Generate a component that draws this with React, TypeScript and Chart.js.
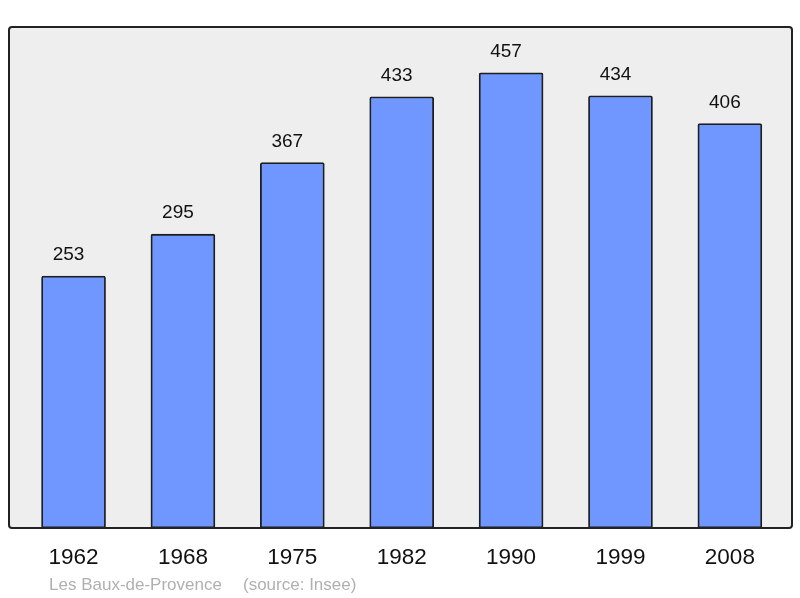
import React, { useEffect, useRef } from "react";
import { Chart, registerables } from "chart.js";

Chart.register(...registerables);

const years = ["1962", "1968", "1975", "1982", "1990", "1999", "2008"];
const population = [253, 295, 367, 433, 457, 434, 406];
const commune = "Les Baux-de-Provence";
const source = "(source: Insee)";

const FONT = "'Liberation Sans', Arial, sans-serif";

const framePlugin = {
  id: "frame",
  beforeDatasetsDraw(chart: any) {
    const { ctx, chartArea: a } = chart;
    ctx.save();
    ctx.fillStyle = "#eeeeee";
    ctx.beginPath();
    ctx.roundRect(a.left, a.top, a.right - a.left, a.bottom - a.top, 3);
    ctx.fill();
    ctx.restore();
  },
  afterDatasetsDraw(chart: any) {
    const { ctx, chartArea: a } = chart;
    ctx.save();
    ctx.strokeStyle = "#222222";
    ctx.lineWidth = 2;
    ctx.beginPath();
    ctx.roundRect(a.left, a.top, a.right - a.left, a.bottom - a.top, 3);
    ctx.stroke();
    // value labels
    const meta = chart.getDatasetMeta(0);
    ctx.fillStyle = "#111111";
    ctx.font = `19px ${FONT}`;
    ctx.textAlign = "center";
    ctx.textBaseline = "middle";
    meta.data.forEach((bar: any, i: number) => {
      ctx.fillText(String(population[i]), bar.x - 5, bar.y - 21);
    });
    // caption
    ctx.fillStyle = "#b0b0b0";
    ctx.font = `17px ${FONT}`;
    ctx.textAlign = "left";
    ctx.fillText(commune, 49, 585);
    ctx.fillText(source, 243, 585);
    ctx.restore();
  },
};

export default function App() {
  const ref = useRef<HTMLCanvasElement>(null);
  useEffect(() => {
    document.body.style.margin = "0";
    const chart = new Chart(ref.current!, {
      type: "bar",
      data: {
        datasets: [
          {
            data: population.map((v, i) => ({ x: i, y: v })),
            backgroundColor: "#7097ff",
            borderColor: "#1e1e1e",
            borderWidth: 1.8,
            borderRadius: 2,
            borderSkipped: false,
            barThickness: 64,
          },
        ],
      },
      options: {
        animation: false,
        responsive: false,
        maintainAspectRatio: false,
        layout: { padding: { left: 9, right: 8, top: 27, bottom: 0 } },
        plugins: { legend: { display: false }, tooltip: { enabled: false } },
        scales: {
          x: {
            type: "linear",
            offset: false,
            min: -0.59,
            max: 6.568,
            grid: { display: false, drawTicks: false },
            border: { display: false },
            afterBuildTicks: (scale: any) => {
              scale.ticks = years.map((_, i) => ({ value: i }));
            },
            afterFit: (scale: any) => {
              scale.height = 70;
            },
            ticks: {
              padding: 16,
              color: "#111111",
              font: { family: FONT, size: 22.5 },
              maxRotation: 0,
              autoSkip: false,
              callback: (v: any) => years[Math.round(Number(v))] ?? "",
            },
          },
          y: { display: false, min: 0, max: 503 },
        },
      },
      plugins: [framePlugin],
    } as any);
    return () => chart.destroy();
  }, []);
  return <canvas ref={ref} width={800} height={598} style={{ display: "block" }} />;
}
